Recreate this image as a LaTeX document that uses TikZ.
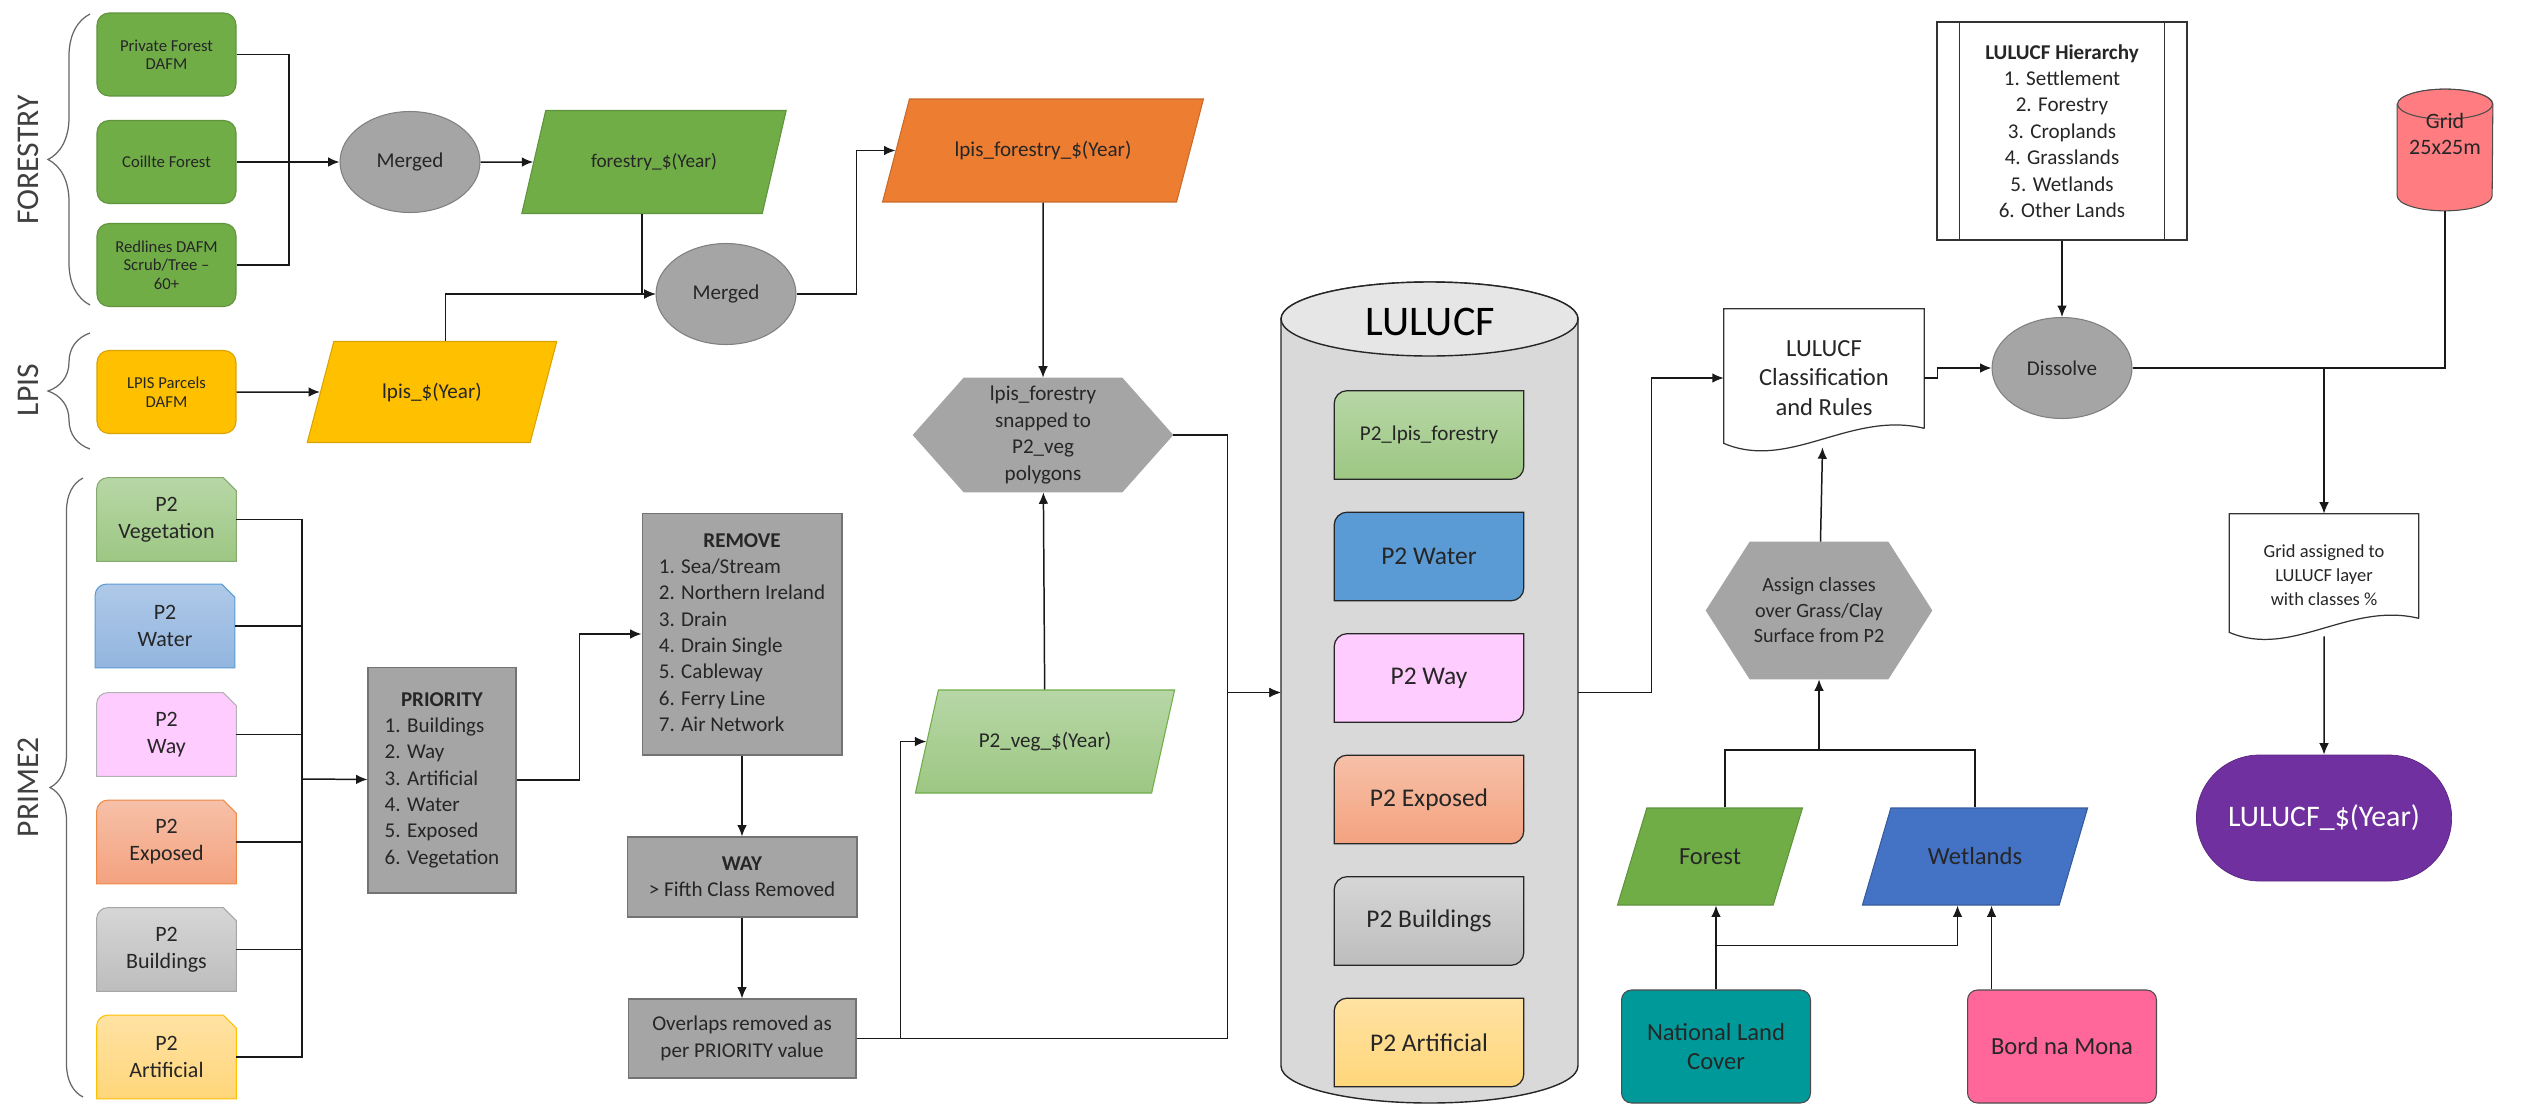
\documentclass[tikz,border=0pt]{standalone}
\usepackage{fontspec}
\setmainfont{Carlito}
\usetikzlibrary{arrows.meta,shapes.geometric,shapes.misc,decorations.pathreplacing,backgrounds}

\definecolor{ink}{HTML}{262626}
\definecolor{frgreen}{HTML}{70AD47}
\definecolor{lpisyellow}{HTML}{FFC000}
\definecolor{lforange}{HTML}{ED7D31}
\definecolor{procgray}{HTML}{A5A5A5}
\definecolor{cylbody}{HTML}{D9D9D9}
\definecolor{cyltop}{HTML}{E6E6E6}
\definecolor{vegtop}{HTML}{B7D7A6}
\definecolor{vegbot}{HTML}{9DC783}
\definecolor{watertop}{HTML}{AFC9E8}
\definecolor{waterbot}{HTML}{92B5DF}
\definecolor{waterfill}{HTML}{5B9BD5}
\definecolor{wayfill}{HTML}{FFCCFF}
\definecolor{exptop}{HTML}{F6C0A8}
\definecolor{expbot}{HTML}{F4A27F}
\definecolor{bldtop}{HTML}{D6D6D6}
\definecolor{bldbot}{HTML}{BDBDBD}
\definecolor{arttop}{HTML}{FFE2A3}
\definecolor{artbot}{HTML}{FFD67A}
\definecolor{wetblue}{HTML}{4472C4}
\definecolor{nlcteal}{HTML}{009999}
\definecolor{bnmpink}{HTML}{FF6699}
\definecolor{gridred}{HTML}{FF7C80}
\definecolor{outpurple}{HTML}{7030A0}

\newcommand{\snipbox}[4]{\draw[draw=#4, top color=#2, bottom color=#3, line width=0.6pt] (#1.south west) -- ([yshift=-0.22cm]#1.north west) arc[start angle=180,end angle=90,radius=0.22cm] -- ([xshift=-0.26cm]#1.north east) -- ([yshift=-0.26cm]#1.north east) -- (#1.south east) -- cycle;}
\newcommand{\diagbox}[3]{\draw[draw=black!85, top color=#2, bottom color=#3, line width=0.7pt] ([yshift=-0.26cm]#1.north west) arc[start angle=180,end angle=90,radius=0.26cm] -- (#1.north east) -- ([yshift=0.26cm]#1.south east) arc[start angle=0,end angle=-90,radius=0.26cm] -- (#1.south west) -- cycle;}
\newcommand{\hexfill}[2]{\fill[procgray] (#1.west) -- ([xshift=#2]#1.north west) -- ([xshift=-#2]#1.north east) -- (#1.east) -- ([xshift=-#2]#1.south east) -- ([xshift=#2]#1.south west) -- cycle;}

\begin{document}
\begin{tikzpicture}[x=0.02cm, y=0.02cm, font=\fontsize{12}{15}\selectfont, text=ink,
	conn/.style={line width=0.85pt, draw=black!90},
	arr/.style={conn, -{Latex[length=6.5pt,width=5.5pt]}},
	src/.style={rectangle, rounded corners=0.24cm, minimum width=2.78cm, minimum height=1.66cm, align=center, font=\fontsize{9.5}{10.5}\selectfont, line width=0.6pt},
	merge/.style={ellipse, fill=procgray, draw=gray, line width=0.6pt, minimum width=2.8cm, minimum height=2.02cm},
	para/.style={trapezium, trapezium stretches=true, align=center, line width=0.6pt},
	proc/.style={rectangle, fill=procgray, draw=gray!90!black, line width=0.6pt, align=center},
	ptwo/.style={minimum width=2.78cm, minimum height=1.66cm, align=center, font=\fontsize{12.5}{15.4}\selectfont},
	lulayer/.style={minimum width=3.78cm, minimum height=1.76cm, font=\fontsize{14.5}{17}\selectfont},
	grouplbl/.style={rotate=90, font=\fontsize{18}{20}\selectfont, text=black!75},
	bracestyle/.style={draw=black!60, line width=0.7pt, decorate, decoration={brace, amplitude=0.84cm}},
	landbox/.style={rectangle, rounded corners=0.2cm, draw=black!70, line width=0.6pt, minimum width=3.78cm, minimum height=2.26cm, align=center, font=\fontsize{14}{17}\selectfont}]
	\useasboundingbox (0,0) rectangle (2522,-1109);

	% groups on the left
	\node[grouplbl] (forestry-lbl) at (28,-160) {FORESTRY};
	\node[grouplbl] (lpis-lbl) at (28,-390) {LPIS};
	\node[grouplbl] (prime-lbl) at (28,-787) {PRIME2};
	\draw[bracestyle] (90,-305) -- (90,-14);
	\draw[bracestyle] (90,-449) -- (90,-333);
	\draw[bracestyle, decoration={amplitude=0.66cm}] (83,-1097) -- (83,-478);

	\node[src, fill=frgreen, draw=frgreen!85!black] (pfd) at (166.5,-54.5) {Private Forest\\DAFM};
	\node[src, fill=frgreen, draw=frgreen!85!black] (cf) at (166.5,-162) {Coillte Forest};
	\node[src, fill=frgreen, draw=frgreen!85!black] (rd) at (166.5,-265) {Redlines DAFM\\Scrub/Tree --\\60+};
	\node[src, fill=lpisyellow, draw=lpisyellow!85!black] (lpp) at (166.5,-392) {LPIS Parcels\\DAFM};

	\node[ptwo] (veg) at (166.5,-519.5) {P2\\Vegetation};
	\node[ptwo] (water) at (165,-626) {P2\\Water};
	\node[ptwo] (way) at (166.5,-734.5) {P2\\Way};
	\node[ptwo] (exp) at (166.5,-842) {P2\\Exposed};
	\node[ptwo] (bld) at (166.5,-949.5) {P2\\Buildings};
	\node[ptwo] (art) at (166.5,-1057) {P2\\Artificial};

	% merging
	\node[merge] (merge1) at (410,-162) {Merged};
	\node[para, fill=frgreen, draw=frgreen!85!black, trapezium left angle=62.3, trapezium right angle=117.7, minimum width=5.32cm, minimum height=2.06cm, font=\fontsize{11}{13}\selectfont] (forest) at (654,-162) {forestry\_\$(Year)};
	\node[para, fill=lpisyellow, draw=lpisyellow!85!black, trapezium left angle=63.7, trapezium right angle=116.3, minimum width=5cm, minimum height=2.02cm] (lpis) at (432,-392) {lpis\_\$(Year)};
	\node[merge] (merge2) at (726,-294) {Merged};
	\node[para, fill=lforange, draw=lforange!85!black, trapezium left angle=58.1, trapezium right angle=121.9, minimum width=6.42cm, minimum height=2.06cm] (lpisfor) at (1043,-150.5) {lpis\_forestry\_\$(Year)};
	\node[align=center, minimum width=5.2cm, minimum height=2.28cm] (snap) at (1043,-435) {lpis\_forestry\\snapped to\\P2\_veg\\polygons};
	\node[para, draw=frgreen, top color=vegtop, bottom color=vegbot, trapezium left angle=63.2, trapezium right angle=116.8, minimum width=5.2cm, minimum height=2.06cm] (p2veg) at (1045,-741.5) {P2\_veg\_\$(Year)};

	% prime2 processing
	\node[proc, minimum width=2.96cm, minimum height=4.52cm] (prio) at (442,-780) {\begin{tabular}{@{}l@{}}\multicolumn{1}{c}{\textbf{PRIORITY}}\\1. Buildings\\2. Way\\3. Artificial\\4. Water\\5. Exposed\\6. Vegetation\end{tabular}};
	\node[proc, minimum width=4cm, minimum height=4.84cm] (remove) at (742,-634) {\begin{tabular}{@{}l@{}}\multicolumn{1}{c}{\textbf{REMOVE}}\\1. Sea/Stream\\2. Northern Ireland\\3. Drain\\4. Drain Single\\5. Cableway\\6. Ferry Line\\7. Air Network\end{tabular}};
	\node[proc, minimum width=4.6cm, minimum height=1.6cm] (way5) at (742,-877) {\textbf{WAY}\\> Fifth Class Removed};
	\node[proc, minimum width=4.56cm, minimum height=1.58cm] (overlap) at (742,-1038.5) {Overlaps removed as\\per PRIORITY value};

	% LULUCF store
	\node[minimum width=5.94cm, minimum height=16.42cm] (lulucf) at (1429.5,-692.5) {};
	\node[font=\fontsize{24}{28}\selectfont, text=black] (lulucf-title) at (1430,-322) {LULUCF};
	\node[lulayer, font=\fontsize{12}{14}\selectfont] (l-lpisfor) at (1429,-435) {P2\_lpis\_forestry};
	\node[lulayer] (l-water) at (1429,-556.5) {P2 Water};
	\node[lulayer] (l-way) at (1429,-678) {P2 Way};
	\node[lulayer] (l-exp) at (1429,-799.5) {P2 Exposed};
	\node[lulayer] (l-bld) at (1429,-921) {P2 Buildings};
	\node[lulayer] (l-art) at (1429,-1042.5) {P2 Artificial};

	% classification
	\node[minimum width=4cm, minimum height=2.76cm, align=center, font=\fontsize{14}{16.8}\selectfont] (rules) at (1824,-378) {LULUCF\\Classification\\and Rules};
	\node[align=center, minimum width=4.52cm, minimum height=2.74cm, font=\fontsize{11.5}{14.5}\selectfont] (assign) at (1819,-610.5) {Assign classes\\over Grass/Clay\\Surface from P2};
	\node[para, fill=frgreen, draw=frgreen!85!black, trapezium left angle=58.3, trapezium right angle=121.7, minimum width=3.72cm, minimum height=1.94cm, font=\fontsize{14}{17}\selectfont] (forestin) at (1710,-856.5) {Forest};
	\node[para, fill=wetblue, draw=wetblue!80!black, trapezium left angle=58.3, trapezium right angle=121.7, minimum width=4.54cm, minimum height=1.94cm, font=\fontsize{14}{17}\selectfont] (wet) at (1975,-856.5) {Wetlands};
	\node[landbox, fill=nlcteal] (nlc) at (1716,-1046.5) {National Land\\Cover};
	\node[landbox, fill=bnmpink] (bnm) at (2062,-1046.5) {Bord na Mona};

	\node[merge] (dissolve) at (2062,-368) {Dissolve};
	\node[rectangle, draw=black!80, fill=white, line width=0.7pt, minimum width=5cm, minimum height=4.36cm, align=center] (hier) at (2062,-131) {\textbf{LULUCF Hierarchy}\\1. Settlement\\2. Forestry\\3. Croplands\\4. Grasslands\\5. Wetlands\\6. Other Lands};
	\draw[line width=0.7pt, draw=black!80] ([xshift=0.46cm]hier.north west) -- ([xshift=0.46cm]hier.south west) ([xshift=-0.46cm]hier.north east) -- ([xshift=-0.46cm]hier.south east);
	\node[minimum width=1.9cm, minimum height=2.42cm] (grid) at (2445,-150) {};
	\node[align=center, font=\fontsize{12.5}{15}\selectfont] (grid-txt) at (2445,-134) {Grid\\25x25m};
	\node[align=center, minimum width=3.78cm, minimum height=2.44cm, font=\fontsize{10.5}{13.5}\selectfont] (gdoc) at (2324,-575) {Grid assigned to\\LULUCF layer\\with classes \%};
	\node[rounded rectangle, fill=outpurple, draw=outpurple!80!black, minimum width=5.34cm, minimum height=2.52cm, text=white, font=\fontsize{17}{20}\selectfont] (out) at (2324,-818) {LULUCF\_\$(Year)};

	\begin{scope}[on background layer]
		\fill[white] (0,0) rectangle (2522,-1109);
		\snipbox{veg}{vegtop}{vegbot}{vegbot!85!black}
		\snipbox{water}{watertop}{waterbot}{waterfill}
		\snipbox{way}{wayfill}{wayfill}{black!30}
		\snipbox{exp}{exptop}{expbot}{lforange!90}
		\snipbox{bld}{bldtop}{bldbot}{black!35}
		\snipbox{art}{arttop}{artbot}{lpisyellow}
		\hexfill{snap}{1.02cm}
		\hexfill{assign}{0.88cm}
		\draw[fill=cylbody, draw=black!85, line width=0.8pt] (1281,-319) -- (1281,-1066) arc[start angle=180,end angle=360,x radius=2.97cm,y radius=0.74cm] -- (1578,-319) arc[start angle=0,end angle=180,x radius=2.97cm,y radius=0.74cm] -- cycle;
		\draw[fill=cyltop, draw=black!85, line width=0.8pt] (1429.5,-319) ellipse [x radius=2.97cm, y radius=0.74cm];
		\diagbox{l-lpisfor}{vegtop}{vegbot}
		\diagbox{l-water}{waterfill}{waterfill}
		\diagbox{l-way}{wayfill}{wayfill}
		\diagbox{l-exp}{exptop}{expbot}
		\diagbox{l-bld}{bldtop}{bldbot}
		\diagbox{l-art}{arttop}{artbot}
		\draw[fill=white, draw=black!80, line width=0.7pt] ([yshift=0.38cm]rules.south east) -- (rules.north east) -- (rules.north west) -- ([yshift=0.08cm]rules.south west) .. controls +(1.32cm,-0.56cm) and +(-1.48cm,0.36cm) .. ([yshift=0.38cm]rules.south east);
		\draw[fill=white, draw=black!80, line width=0.7pt] ([yshift=0.36cm]gdoc.south east) -- (gdoc.north east) -- (gdoc.north west) -- ([yshift=0.08cm]gdoc.south west) .. controls +(1.25cm,-0.53cm) and +(-1.4cm,0.34cm) .. ([yshift=0.36cm]gdoc.south east);
		\draw[fill=gridred, draw=black!70, line width=0.6pt] ([yshift=-0.3cm]grid.north west) -- ([yshift=0.3cm]grid.south west) arc[start angle=180,end angle=360,x radius=0.95cm,y radius=0.3cm] -- ([yshift=-0.3cm]grid.north east) arc[start angle=0,end angle=180,x radius=0.95cm,y radius=0.3cm] -- cycle;
		\draw[fill=gridred, draw=black!70, line width=0.6pt] ([yshift=-0.3cm]grid.north) ellipse [x radius=0.95cm, y radius=0.3cm];
	\end{scope}

	% connectors
	\coordinate (fbus) at (289,-162);
	\draw[conn] (pfd.east) -| (fbus);
	\draw[conn] (rd.east) -| (fbus);
	\draw[arr] (cf) -- (merge1);
	\draw[arr] (merge1) -- (forest);
	\draw[arr] (lpp) -- (lpis);
	\draw[arr] (forest.bottom side) |- (merge2);
	\draw[arr] (lpis.top side) |- (merge2);
	\draw[arr] (merge2.east) -- ++(60,0) |- (lpisfor);
	\draw[arr] (lpisfor) -- (snap);
	\draw[arr] (p2veg) -- (snap);
	\coordinate (bus) at (302,-779);
	\foreach \p in {veg,water,way,exp,bld,art} \draw[conn] (\p.east) -| (bus);
	\draw[arr] (bus) -- (prio);
	\draw[arr] (prio.east) -- ++(63,0) |- (remove);
	\draw[arr] (remove) -- (way5);
	\draw[arr] (way5) -- (overlap);
	\draw[arr] (overlap.east) -- ++(44,0) |- (p2veg);
	\draw[arr] (overlap.east) -- ++(371,0) |- (lulucf);
	\draw[arr] (snap.east) -- ++(54,0) |- (lulucf);
	\draw[arr] (lulucf.east) -- ++(73,0) |- (rules);
	\draw[arr] (rules.east) -- ++(13,0) |- (dissolve);
	\draw[arr] (hier) -- (dissolve);
	\coordinate (gjoin) at (gdoc.north |- dissolve.east);
	\draw[arr] (dissolve.east) -| (gdoc.north);
	\draw[conn] (grid.south) |- (gjoin);
	\draw[arr] (gdoc) -- (out);
	\draw[arr] (assign) -- (rules);
	\coordinate (fwjoin) at (1819,-750);
	\draw[conn] (forestin.top side) |- (fwjoin) -| (wet.north);
	\draw[arr] (fwjoin) -- (assign);
	\draw[arr] (nlc.north) -- (nlc.north |- forestin.south);
	\draw[arr] ([yshift=0.88cm]nlc.north) -| ([xshift=-0.35cm]wet.south);
	\coordinate (bnmtop) at ([xshift=-1.41cm]bnm.north);
	\draw[arr] (bnmtop) -- (bnmtop |- wet.south);
\end{tikzpicture}
\end{document}
